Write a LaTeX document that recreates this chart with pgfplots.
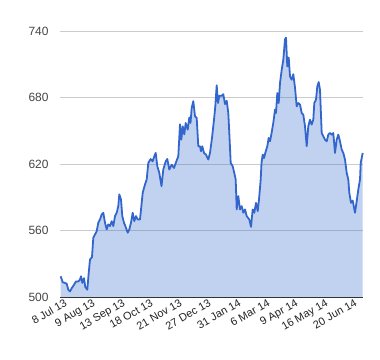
\documentclass[border=0pt]{standalone}
\usepackage{pgfplots}
\usepackage{pgfplotstable}
\pgfplotsset{compat=1.18}
\usepackage{fontspec}
\setmainfont{Liberation Sans}
\definecolor{linec}{HTML}{3366CC}
\definecolor{gridc}{HTML}{CCCCCC}
\definecolor{axisc}{HTML}{333333}
\definecolor{ylab}{HTML}{444444}
\definecolor{xlab}{HTML}{222222}
\pgfplotstableread{
x y
60.7 518.7
62.7 513.3
65 512.7
66.7 512
68.3 506.6
70 505
71.7 508
73.3 510
76 514
78.3 514
80 515.7
81 518.7
82.3 512.7
84 517
85.3 509
87.3 506.6
88.7 521.7
90 533.8
92 536
93.3 553.4
95 556.4
96.7 559.4
98.3 567
100 570
101.7 574.5
103.3 576
105 567
106.7 561
108.3 565.5
110 564
111.7 568.4
113.3 564
115 573
116.7 576
118.3 582
119.3 592.6
121 588
122.3 573
124 567
126 562.4
127.7 558
129.3 561
131 567
132.7 576
134.3 568.4
136 573
137.7 570
140 570
142.7 594
145 601.6
146.7 606
148.3 621
150.7 624.5
152.7 622.4
154.3 627
155.7 630
157.3 618
159.3 612
161.5 600
163.3 615
165.7 622.4
167.3 624.5
169.3 615
171.7 619.4
174 616.4
176 621.5
178.3 627
180 655.8
181.3 642
182.7 654
184.3 646.7
185.7 657
187.7 651
189.3 662
190.5 657
191.7 670.6
193.3 676.7
195 663
196.7 661.6
198.3 636
200 636
201 631.5
202.3 636
204 630
206 628.4
208.3 624
210 630
212 643.5
214 660
215.3 672
216.7 691
218 675
219.3 681.5
221.7 681.5
223.3 683
225 674
226.7 677
228.3 666
229.3 648
230.7 621
232.7 618
235 609
235.7 606
236.7 579
238.3 591
240 579
241.7 582
243.3 576
245 579
246.7 573
249.3 570
251 563.3
252.7 579
254.3 576
256 585
257.7 577.5
259 588
260.7 606
261.5 621
262.7 628.4
264 625.4
265.3 630
267.3 636
268.7 643.5
270 640.5
271.3 646.5
273.3 657
275 669
276 666
277.3 684
278.7 675
280 693
281.7 705
283.3 714
285 732.4
286 734
287.3 708
288.7 716
290 699
291.7 696
293.3 701
295 689
296.7 672
298.3 675
300 673.6
301.7 666
303.3 664.6
305 654
306.7 636
308.3 654
310 660
311.7 655.6
313.3 660
314.3 675
316 678
317.3 690
318.7 694
320 687
321.7 648
323.3 645
325 642
326.7 640.5
328.3 646.5
330 648
331.7 646.5
333.3 648
335 630
336.7 642
338.3 646.5
340 640.5
341.7 633
343.3 630
345 624
346.7 612
348.3 606
349.3 594
351 585
352.7 587
355 576
356.7 586.6
358.3 597
360 606
360.7 621
362.7 630
}\datatable
\begin{document}
\begin{tikzpicture}
\useasboundingbox (-60bp,-63bp) rectangle (320bp,297bp);
\begin{axis}[
  at={(0,0)}, anchor=south west,
  scale only axis,
  width=303bp, height=266bp,
  xmin=60, xmax=363, ymin=500, ymax=740,
  axis line style={draw=none},
  ytick={500,560,620,680,740},
  xtick={62,90,120,148,177,206,236,265,293,323,352},
  xticklabels={8 Jul 13,9 Aug 13,13 Sep 13,18 Oct 13,21 Nov 13,27 Dec 13,31 Jan 14,6 Mar 14,9 Apr 14,16 May 14,20 Jun 14},
  major tick length=0pt,
  tick style={draw=none},
  ymajorgrids, grid style={gridc, line width=0.75pt},
  yticklabel style={ylab, anchor=east, xshift=-8bp, font=\fontsize{12}{14}\selectfont},
  xticklabel style={xlab, rotate=30, anchor=north east, yshift=-1bp, xshift=2bp, inner sep=1bp, font=\fontsize{11}{13}\selectfont},
  /pgf/number format/assume math mode=true,
  clip=false,
]
\addplot[draw=none, fill=linec, fill opacity=0.3] table[x=x,y=y] {\datatable} \closedcycle;
\addplot[linec, line width=1.8pt, line join=round] table[x=x,y=y] {\datatable};
\draw[axisc, line width=1pt] (axis cs:60,500) -- (axis cs:363,500);
\end{axis}
\end{tikzpicture}
\end{document}
